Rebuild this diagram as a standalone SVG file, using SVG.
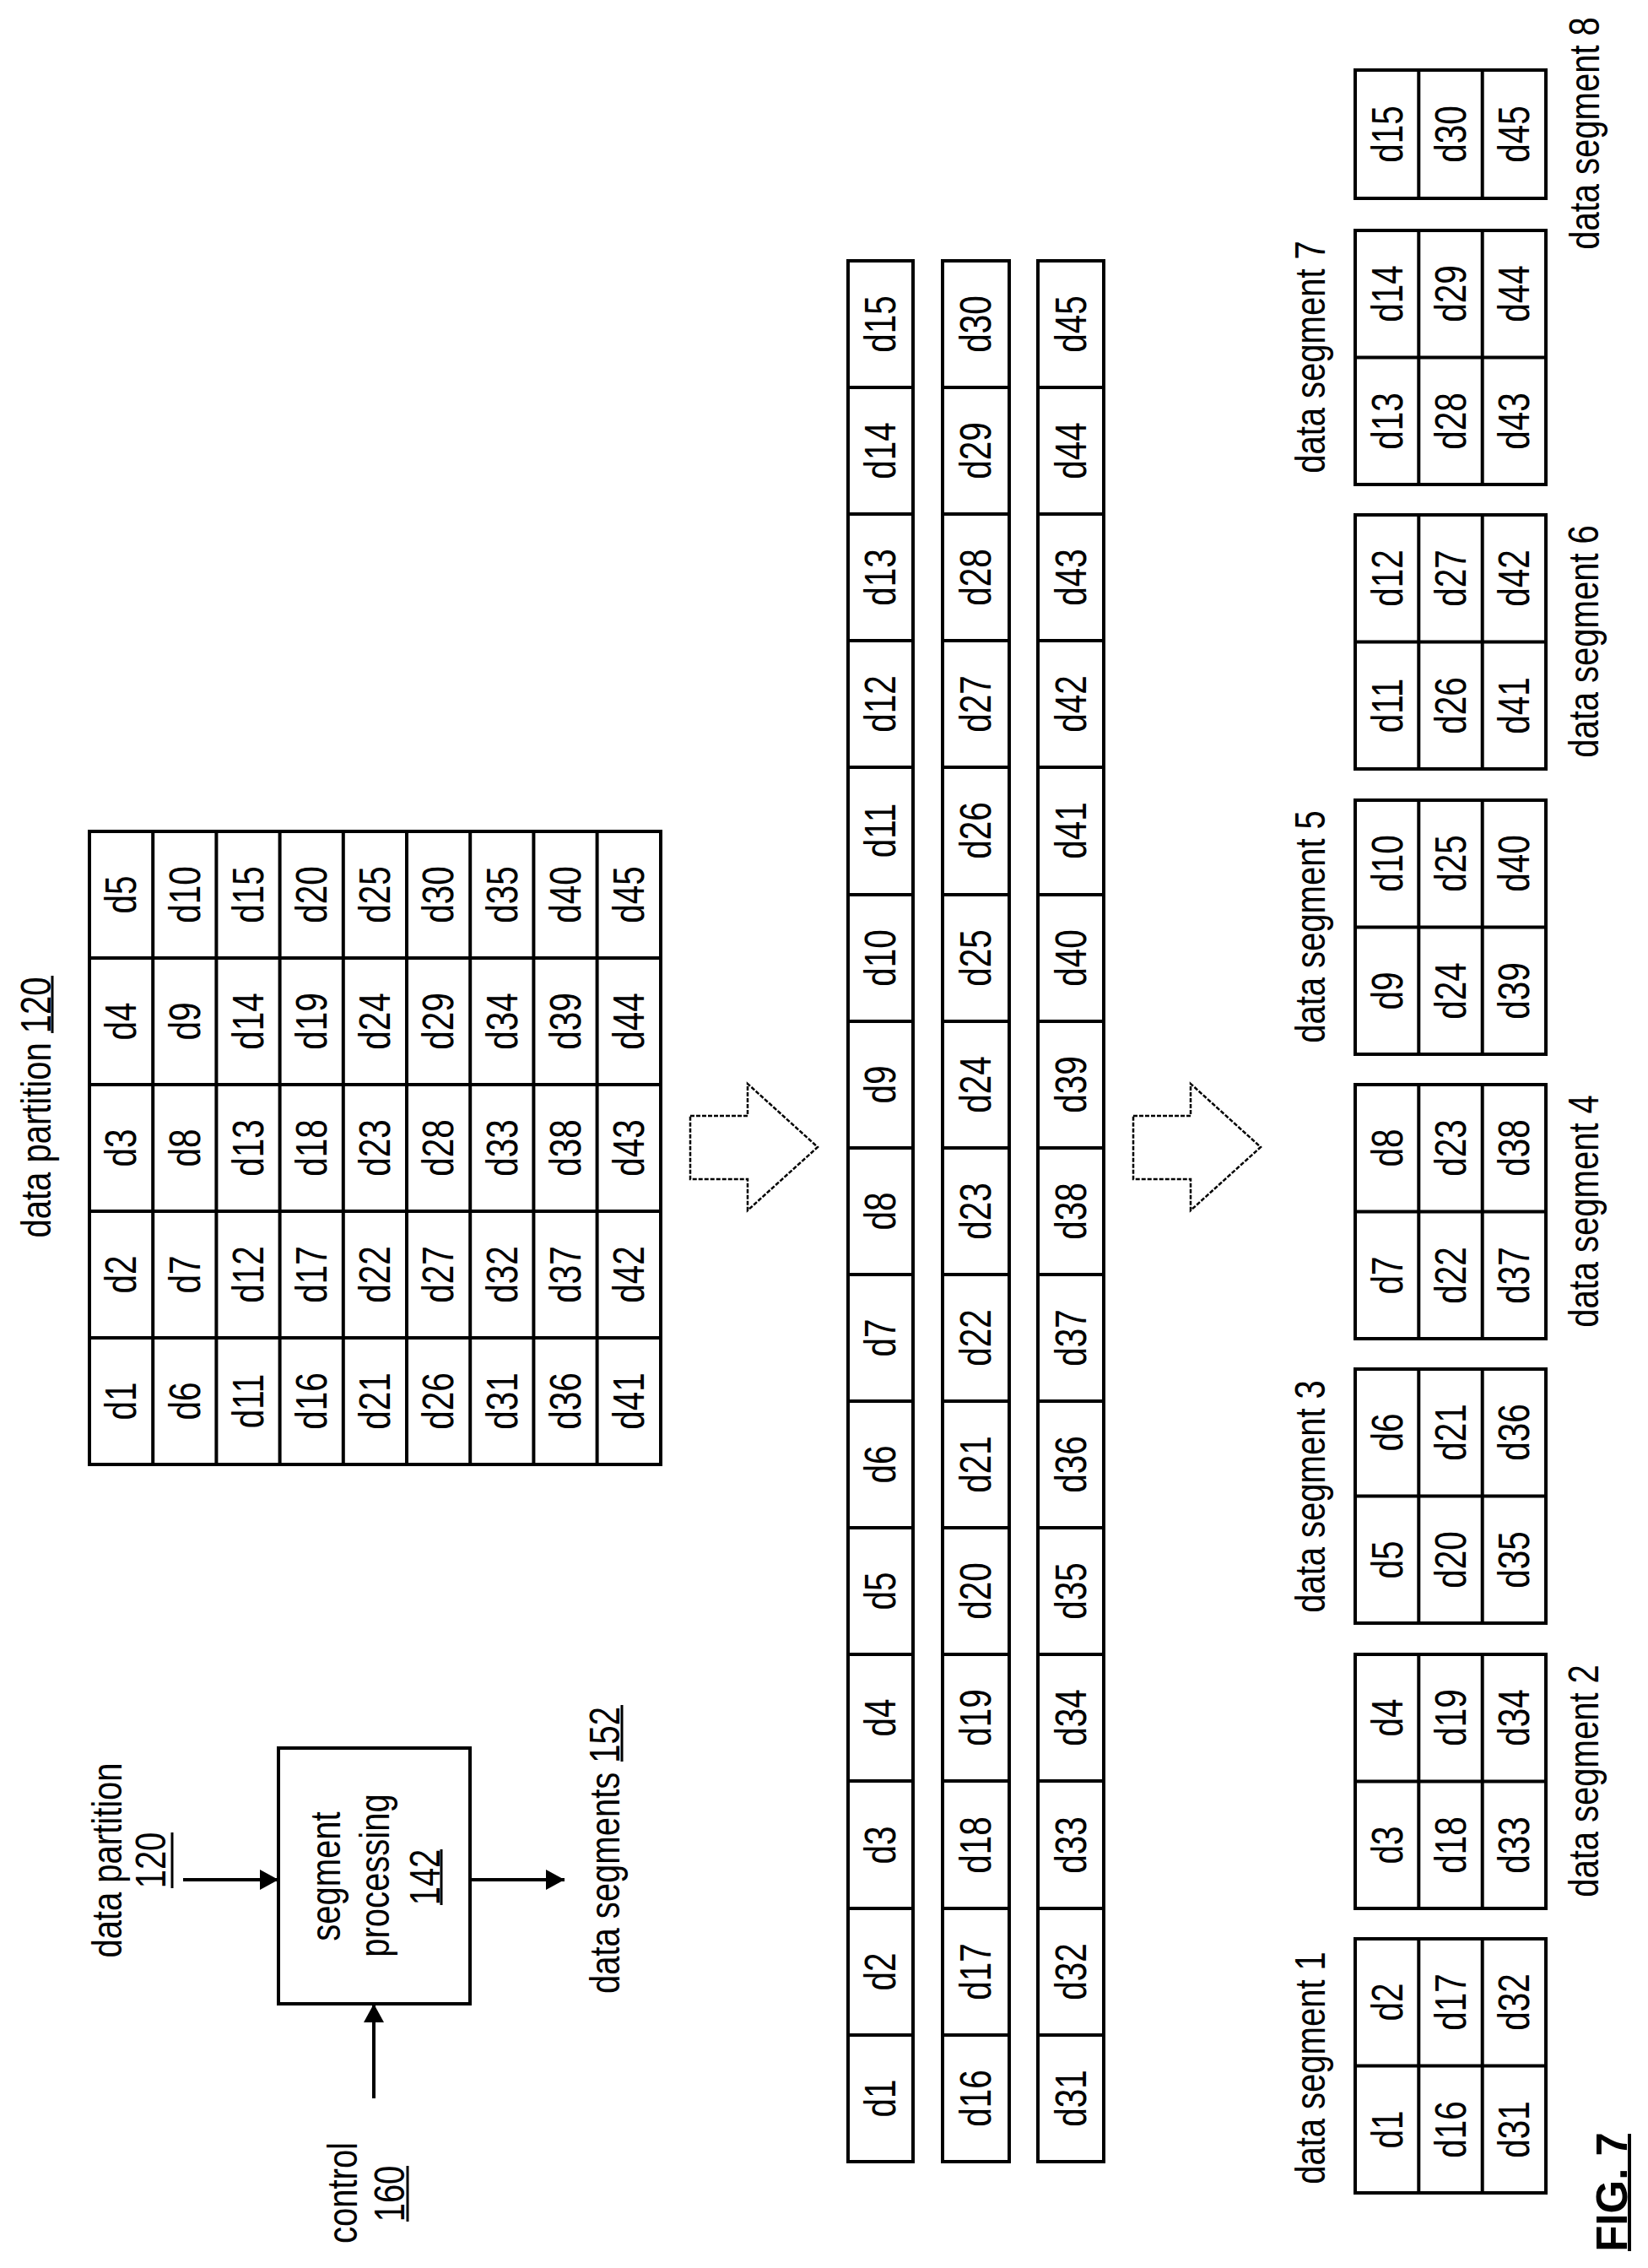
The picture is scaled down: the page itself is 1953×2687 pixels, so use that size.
<svg xmlns="http://www.w3.org/2000/svg" width="1953" height="2687" viewBox="0 0 1953 2687">
<style>
text{font-family:"Liberation Sans",Arial,sans-serif;fill:#000;text-anchor:middle;dominant-baseline:central}
.c{font-size:52px}
.l{font-size:50px}
.b{fill:#fff;stroke:#000;stroke-width:4}
.g{stroke:#000;stroke-width:4;fill:none}
.u{stroke:#000;stroke-width:3}
.h{fill:#fff;stroke:#000;stroke-width:2.5;stroke-dasharray:5 2}
</style>
<defs>
<marker id="ah" markerUnits="userSpaceOnUse" markerWidth="24" markerHeight="26" refX="22" refY="12" orient="auto"><path d="M0,0 L22,12 L0,24 Z" fill="#000"/></marker>
</defs>

<g id="block">
<rect class="b" x="330" y="2071" width="227" height="303"/>
<text class="l" transform="translate(386,2223) rotate(-90) scale(0.8,1)">segment</text>
<text class="l" transform="translate(444,2222) rotate(-90) scale(0.8,1)">processing</text>
<text class="l" transform="translate(504,2224) rotate(-90) scale(0.8,1)">142</text>
<line class="u" x1="523" y1="2191" x2="523" y2="2257"/>
</g>
<g id="lbl-partition">
<text class="l" transform="translate(127,2204) rotate(-90) scale(0.8,1)">data partition</text>
<text class="l" transform="translate(179,2204) rotate(-90) scale(0.8,1)">120</text>
<line class="u" x1="204" y1="2171" x2="204" y2="2237"/>
</g>
<g id="lbl-control">
<text class="l" transform="translate(406,2598) rotate(-90) scale(0.8,1)">control</text>
<text class="l" transform="translate(462,2599) rotate(-90) scale(0.8,1)">160</text>
<line class="u" x1="483" y1="2566" x2="483" y2="2632"/>
</g>
<g id="lbl-segments">
<text class="l" transform="translate(717,2192) rotate(-90) scale(0.8,1)">data segments 152</text>
<line class="u" x1="737" y1="2020" x2="737" y2="2087"/>
</g>
<g id="connectors">
<line class="g" x1="217" y1="2227" x2="330" y2="2227" marker-end="url(#ah)"/>
<line class="g" x1="557" y1="2227" x2="669" y2="2227" marker-end="url(#ah)"/>
<line class="g" x1="443" y1="2486" x2="443" y2="2374" marker-end="url(#ah)"/>
<path class="h" d="M818,1322 H886 V1284 L969,1359 L886,1434 V1397 H818 Z"/>
<path class="h" d="M1343,1322 H1411 V1284 L1494,1359 L1411,1434 V1397 H1343 Z"/>
</g>

<g id="partition-table">
<text class="l" transform="translate(43,1312) rotate(-90) scale(0.8,1)">data partition 120</text>
<line class="u" x1="62" y1="1156" x2="62" y2="1224"/>
<rect class="b" x="106" y="985" width="677" height="750"/>
<path class="g" d="M181.2,985V1735M256.4,985V1735M331.6,985V1735M406.8,985V1735M482,985V1735M557.2,985V1735M632.4,985V1735M707.6,985V1735M106,1135H783M106,1285H783M106,1435H783M106,1585H783"/>
<g class="c">
<text transform="translate(143.6,1660) rotate(-90) scale(0.78,1)">d1</text><text transform="translate(143.6,1510) rotate(-90) scale(0.78,1)">d2</text><text transform="translate(143.6,1360) rotate(-90) scale(0.78,1)">d3</text><text transform="translate(143.6,1210) rotate(-90) scale(0.78,1)">d4</text><text transform="translate(143.6,1060) rotate(-90) scale(0.78,1)">d5</text>
<text transform="translate(218.8,1660) rotate(-90) scale(0.78,1)">d6</text><text transform="translate(218.8,1510) rotate(-90) scale(0.78,1)">d7</text><text transform="translate(218.8,1360) rotate(-90) scale(0.78,1)">d8</text><text transform="translate(218.8,1210) rotate(-90) scale(0.78,1)">d9</text><text transform="translate(218.8,1060) rotate(-90) scale(0.78,1)">d10</text>
<text transform="translate(294,1660) rotate(-90) scale(0.78,1)">d11</text><text transform="translate(294,1510) rotate(-90) scale(0.78,1)">d12</text><text transform="translate(294,1360) rotate(-90) scale(0.78,1)">d13</text><text transform="translate(294,1210) rotate(-90) scale(0.78,1)">d14</text><text transform="translate(294,1060) rotate(-90) scale(0.78,1)">d15</text>
<text transform="translate(369.2,1660) rotate(-90) scale(0.78,1)">d16</text><text transform="translate(369.2,1510) rotate(-90) scale(0.78,1)">d17</text><text transform="translate(369.2,1360) rotate(-90) scale(0.78,1)">d18</text><text transform="translate(369.2,1210) rotate(-90) scale(0.78,1)">d19</text><text transform="translate(369.2,1060) rotate(-90) scale(0.78,1)">d20</text>
<text transform="translate(444.4,1660) rotate(-90) scale(0.78,1)">d21</text><text transform="translate(444.4,1510) rotate(-90) scale(0.78,1)">d22</text><text transform="translate(444.4,1360) rotate(-90) scale(0.78,1)">d23</text><text transform="translate(444.4,1210) rotate(-90) scale(0.78,1)">d24</text><text transform="translate(444.4,1060) rotate(-90) scale(0.78,1)">d25</text>
<text transform="translate(519.6,1660) rotate(-90) scale(0.78,1)">d26</text><text transform="translate(519.6,1510) rotate(-90) scale(0.78,1)">d27</text><text transform="translate(519.6,1360) rotate(-90) scale(0.78,1)">d28</text><text transform="translate(519.6,1210) rotate(-90) scale(0.78,1)">d29</text><text transform="translate(519.6,1060) rotate(-90) scale(0.78,1)">d30</text>
<text transform="translate(594.8,1660) rotate(-90) scale(0.78,1)">d31</text><text transform="translate(594.8,1510) rotate(-90) scale(0.78,1)">d32</text><text transform="translate(594.8,1360) rotate(-90) scale(0.78,1)">d33</text><text transform="translate(594.8,1210) rotate(-90) scale(0.78,1)">d34</text><text transform="translate(594.8,1060) rotate(-90) scale(0.78,1)">d35</text>
<text transform="translate(670,1660) rotate(-90) scale(0.78,1)">d36</text><text transform="translate(670,1510) rotate(-90) scale(0.78,1)">d37</text><text transform="translate(670,1360) rotate(-90) scale(0.78,1)">d38</text><text transform="translate(670,1210) rotate(-90) scale(0.78,1)">d39</text><text transform="translate(670,1060) rotate(-90) scale(0.78,1)">d40</text>
<text transform="translate(745.2,1660) rotate(-90) scale(0.78,1)">d41</text><text transform="translate(745.2,1510) rotate(-90) scale(0.78,1)">d42</text><text transform="translate(745.2,1360) rotate(-90) scale(0.78,1)">d43</text><text transform="translate(745.2,1210) rotate(-90) scale(0.78,1)">d44</text><text transform="translate(745.2,1060) rotate(-90) scale(0.78,1)">d45</text>
</g>
</g>

<g id="strip1">
<rect class="b" x="1005" y="309" width="77" height="2252"/>
<path class="g" d="M1005,2411H1082M1005,2261H1082M1005,2110H1082M1005,1960H1082M1005,1810H1082M1005,1660H1082M1005,1510H1082M1005,1360H1082M1005,1210H1082M1005,1060H1082M1005,909H1082M1005,759H1082M1005,609H1082M1005,459H1082"/>
<g class="c">
<text transform="translate(1043.5,2486) rotate(-90) scale(0.78,1)">d1</text><text transform="translate(1043.5,2336) rotate(-90) scale(0.78,1)">d2</text><text transform="translate(1043.5,2186) rotate(-90) scale(0.78,1)">d3</text><text transform="translate(1043.5,2035) rotate(-90) scale(0.78,1)">d4</text><text transform="translate(1043.5,1885) rotate(-90) scale(0.78,1)">d5</text><text transform="translate(1043.5,1735) rotate(-90) scale(0.78,1)">d6</text><text transform="translate(1043.5,1585) rotate(-90) scale(0.78,1)">d7</text><text transform="translate(1043.5,1435) rotate(-90) scale(0.78,1)">d8</text><text transform="translate(1043.5,1285) rotate(-90) scale(0.78,1)">d9</text><text transform="translate(1043.5,1135) rotate(-90) scale(0.78,1)">d10</text><text transform="translate(1043.5,984) rotate(-90) scale(0.78,1)">d11</text><text transform="translate(1043.5,834) rotate(-90) scale(0.78,1)">d12</text><text transform="translate(1043.5,684) rotate(-90) scale(0.78,1)">d13</text><text transform="translate(1043.5,534) rotate(-90) scale(0.78,1)">d14</text><text transform="translate(1043.5,384) rotate(-90) scale(0.78,1)">d15</text>
</g>
</g>
<g id="strip2">
<rect class="b" x="1117" y="309" width="79" height="2252"/>
<path class="g" d="M1117,2411H1196M1117,2261H1196M1117,2110H1196M1117,1960H1196M1117,1810H1196M1117,1660H1196M1117,1510H1196M1117,1360H1196M1117,1210H1196M1117,1060H1196M1117,909H1196M1117,759H1196M1117,609H1196M1117,459H1196"/>
<g class="c">
<text transform="translate(1156.5,2486) rotate(-90) scale(0.78,1)">d16</text><text transform="translate(1156.5,2336) rotate(-90) scale(0.78,1)">d17</text><text transform="translate(1156.5,2186) rotate(-90) scale(0.78,1)">d18</text><text transform="translate(1156.5,2035) rotate(-90) scale(0.78,1)">d19</text><text transform="translate(1156.5,1885) rotate(-90) scale(0.78,1)">d20</text><text transform="translate(1156.5,1735) rotate(-90) scale(0.78,1)">d21</text><text transform="translate(1156.5,1585) rotate(-90) scale(0.78,1)">d22</text><text transform="translate(1156.5,1435) rotate(-90) scale(0.78,1)">d23</text><text transform="translate(1156.5,1285) rotate(-90) scale(0.78,1)">d24</text><text transform="translate(1156.5,1135) rotate(-90) scale(0.78,1)">d25</text><text transform="translate(1156.5,984) rotate(-90) scale(0.78,1)">d26</text><text transform="translate(1156.5,834) rotate(-90) scale(0.78,1)">d27</text><text transform="translate(1156.5,684) rotate(-90) scale(0.78,1)">d28</text><text transform="translate(1156.5,534) rotate(-90) scale(0.78,1)">d29</text><text transform="translate(1156.5,384) rotate(-90) scale(0.78,1)">d30</text>
</g>
</g>
<g id="strip3">
<rect class="b" x="1230" y="309" width="78" height="2252"/>
<path class="g" d="M1230,2411H1308M1230,2261H1308M1230,2110H1308M1230,1960H1308M1230,1810H1308M1230,1660H1308M1230,1510H1308M1230,1360H1308M1230,1210H1308M1230,1060H1308M1230,909H1308M1230,759H1308M1230,609H1308M1230,459H1308"/>
<g class="c">
<text transform="translate(1269,2486) rotate(-90) scale(0.78,1)">d31</text><text transform="translate(1269,2336) rotate(-90) scale(0.78,1)">d32</text><text transform="translate(1269,2186) rotate(-90) scale(0.78,1)">d33</text><text transform="translate(1269,2035) rotate(-90) scale(0.78,1)">d34</text><text transform="translate(1269,1885) rotate(-90) scale(0.78,1)">d35</text><text transform="translate(1269,1735) rotate(-90) scale(0.78,1)">d36</text><text transform="translate(1269,1585) rotate(-90) scale(0.78,1)">d37</text><text transform="translate(1269,1435) rotate(-90) scale(0.78,1)">d38</text><text transform="translate(1269,1285) rotate(-90) scale(0.78,1)">d39</text><text transform="translate(1269,1135) rotate(-90) scale(0.78,1)">d40</text><text transform="translate(1269,984) rotate(-90) scale(0.78,1)">d41</text><text transform="translate(1269,834) rotate(-90) scale(0.78,1)">d42</text><text transform="translate(1269,684) rotate(-90) scale(0.78,1)">d43</text><text transform="translate(1269,534) rotate(-90) scale(0.78,1)">d44</text><text transform="translate(1269,384) rotate(-90) scale(0.78,1)">d45</text>
</g>
</g>

<g id="seg1">
<rect class="b" x="1606" y="2297" width="226" height="301"/>
<path class="g" d="M1681.3,2297V2598M1756.7,2297V2598M1606,2447.5H1832"/>
<g class="c"><text transform="translate(1643.7,2523) rotate(-90) scale(0.78,1)">d1</text><text transform="translate(1719,2523) rotate(-90) scale(0.78,1)">d16</text><text transform="translate(1794.3,2523) rotate(-90) scale(0.78,1)">d31</text><text transform="translate(1643.7,2372) rotate(-90) scale(0.78,1)">d2</text><text transform="translate(1719,2372) rotate(-90) scale(0.78,1)">d17</text><text transform="translate(1794.3,2372) rotate(-90) scale(0.78,1)">d32</text></g>
<text class="l" transform="translate(1553,2450) rotate(-90) scale(0.8,1)">data segment 1</text>
</g>
<g id="seg2">
<rect class="b" x="1606" y="1960" width="226" height="301"/>
<path class="g" d="M1681.3,1960V2261M1756.7,1960V2261M1606,2110.5H1832"/>
<g class="c"><text transform="translate(1643.7,2186) rotate(-90) scale(0.78,1)">d3</text><text transform="translate(1719,2186) rotate(-90) scale(0.78,1)">d18</text><text transform="translate(1794.3,2186) rotate(-90) scale(0.78,1)">d33</text><text transform="translate(1643.7,2035) rotate(-90) scale(0.78,1)">d4</text><text transform="translate(1719,2035) rotate(-90) scale(0.78,1)">d19</text><text transform="translate(1794.3,2035) rotate(-90) scale(0.78,1)">d34</text></g>
<text class="l" transform="translate(1877,2110) rotate(-90) scale(0.8,1)">data segment 2</text>
</g>
<g id="seg3">
<rect class="b" x="1606" y="1622" width="226" height="301"/>
<path class="g" d="M1681.3,1622V1923M1756.7,1622V1923M1606,1772.5H1832"/>
<g class="c"><text transform="translate(1643.7,1848) rotate(-90) scale(0.78,1)">d5</text><text transform="translate(1719,1848) rotate(-90) scale(0.78,1)">d20</text><text transform="translate(1794.3,1848) rotate(-90) scale(0.78,1)">d35</text><text transform="translate(1643.7,1697) rotate(-90) scale(0.78,1)">d6</text><text transform="translate(1719,1697) rotate(-90) scale(0.78,1)">d21</text><text transform="translate(1794.3,1697) rotate(-90) scale(0.78,1)">d36</text></g>
<text class="l" transform="translate(1553,1773) rotate(-90) scale(0.8,1)">data segment 3</text>
</g>
<g id="seg4">
<rect class="b" x="1606" y="1285" width="226" height="301"/>
<path class="g" d="M1681.3,1285V1586M1756.7,1285V1586M1606,1435.5H1832"/>
<g class="c"><text transform="translate(1643.7,1511) rotate(-90) scale(0.78,1)">d7</text><text transform="translate(1719,1511) rotate(-90) scale(0.78,1)">d22</text><text transform="translate(1794.3,1511) rotate(-90) scale(0.78,1)">d37</text><text transform="translate(1643.7,1360) rotate(-90) scale(0.78,1)">d8</text><text transform="translate(1719,1360) rotate(-90) scale(0.78,1)">d23</text><text transform="translate(1794.3,1360) rotate(-90) scale(0.78,1)">d38</text></g>
<text class="l" transform="translate(1877,1435) rotate(-90) scale(0.8,1)">data segment 4</text>
</g>
<g id="seg5">
<rect class="b" x="1606" y="948" width="226" height="301"/>
<path class="g" d="M1681.3,948V1249M1756.7,948V1249M1606,1098.5H1832"/>
<g class="c"><text transform="translate(1643.7,1174) rotate(-90) scale(0.78,1)">d9</text><text transform="translate(1719,1174) rotate(-90) scale(0.78,1)">d24</text><text transform="translate(1794.3,1174) rotate(-90) scale(0.78,1)">d39</text><text transform="translate(1643.7,1023) rotate(-90) scale(0.78,1)">d10</text><text transform="translate(1719,1023) rotate(-90) scale(0.78,1)">d25</text><text transform="translate(1794.3,1023) rotate(-90) scale(0.78,1)">d40</text></g>
<text class="l" transform="translate(1553,1098) rotate(-90) scale(0.8,1)">data segment 5</text>
</g>
<g id="seg6">
<rect class="b" x="1606" y="610" width="226" height="301"/>
<path class="g" d="M1681.3,610V911M1756.7,610V911M1606,760.5H1832"/>
<g class="c"><text transform="translate(1643.7,836) rotate(-90) scale(0.78,1)">d11</text><text transform="translate(1719,836) rotate(-90) scale(0.78,1)">d26</text><text transform="translate(1794.3,836) rotate(-90) scale(0.78,1)">d41</text><text transform="translate(1643.7,685) rotate(-90) scale(0.78,1)">d12</text><text transform="translate(1719,685) rotate(-90) scale(0.78,1)">d27</text><text transform="translate(1794.3,685) rotate(-90) scale(0.78,1)">d42</text></g>
<text class="l" transform="translate(1877,760) rotate(-90) scale(0.8,1)">data segment 6</text>
</g>
<g id="seg7">
<rect class="b" x="1606" y="273" width="226" height="301"/>
<path class="g" d="M1681.3,273V574M1756.7,273V574M1606,423.5H1832"/>
<g class="c"><text transform="translate(1643.7,499) rotate(-90) scale(0.78,1)">d13</text><text transform="translate(1719,499) rotate(-90) scale(0.78,1)">d28</text><text transform="translate(1794.3,499) rotate(-90) scale(0.78,1)">d43</text><text transform="translate(1643.7,348) rotate(-90) scale(0.78,1)">d14</text><text transform="translate(1719,348) rotate(-90) scale(0.78,1)">d29</text><text transform="translate(1794.3,348) rotate(-90) scale(0.78,1)">d44</text></g>
<text class="l" transform="translate(1553,423) rotate(-90) scale(0.8,1)">data segment 7</text>
</g>
<g id="seg8">
<rect class="b" x="1606" y="83" width="226" height="152"/>
<path class="g" d="M1681.3,83V235M1756.7,83V235"/>
<g class="c"><text transform="translate(1643.7,159) rotate(-90) scale(0.78,1)">d15</text><text transform="translate(1719,159) rotate(-90) scale(0.78,1)">d30</text><text transform="translate(1794.3,159) rotate(-90) scale(0.78,1)">d45</text></g>
<text class="l" transform="translate(1878,158) rotate(-90) scale(0.8,1)">data segment 8</text>
</g>

<g id="fig">
<text transform="translate(1910,2597) rotate(-90)" style="font-size:51px;font-weight:bold">FIG. 7</text>
<line class="u" x1="1931" y1="2528" x2="1931" y2="2667" style="stroke-width:4"/>
</g>
</svg>
